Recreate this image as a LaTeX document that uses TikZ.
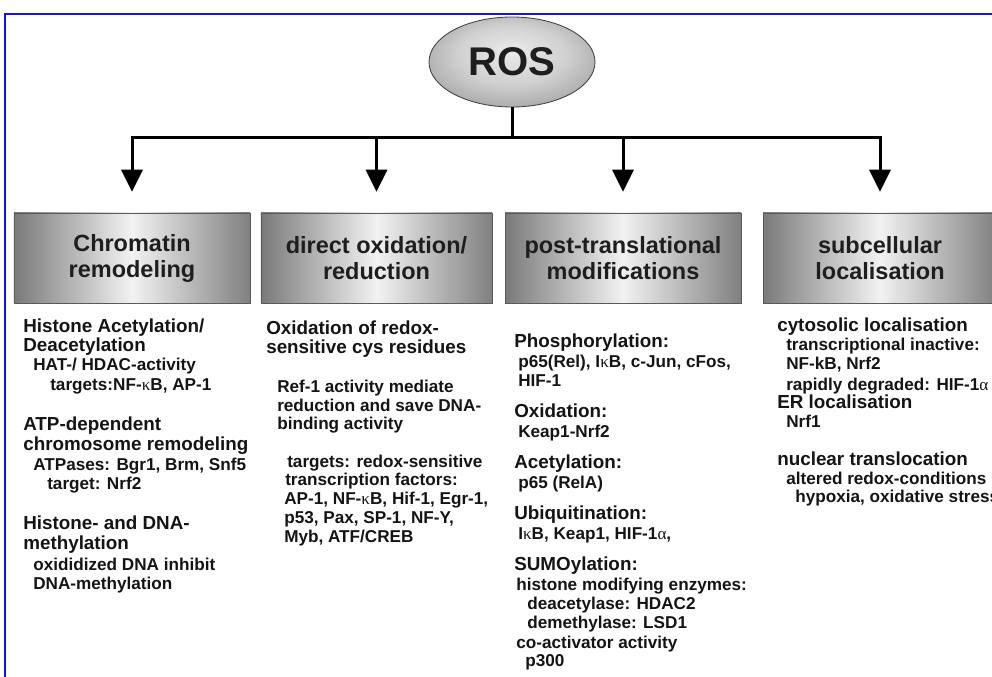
\documentclass[tikz,border=0pt]{standalone}
\usepackage{fontspec}
\setmainfont{Liberation Sans}
\newfontfamily\grk{Liberation Serif}
\usetikzlibrary{shapes.geometric,arrows.meta}
\definecolor{frameblue}{RGB}{20,20,240}
\definecolor{txt}{RGB}{20,20,20}
\definecolor{headtxt}{RGB}{30,30,30}
\definecolor{boxedgeL}{RGB}{122,122,122}
\definecolor{boxedgeR}{RGB}{128,128,128}
\definecolor{boxmid}{RGB}{242,242,242}
\definecolor{boxline}{RGB}{90,90,90}
\pgfdeclareradialshading{rosball}{\pgfpoint{0bp}{6bp}}{color(0bp)=(black!8); color(16bp)=(black!18); color(34bp)=(black!40); color(50bp)=(black!62)}
\newcommand{\kap}{{\grk\mdseries κ}}
\newcommand{\alp}{{\grk\mdseries α}}
\begin{document}
\begin{tikzpicture}[x=0.25mm,y=-0.25mm,
  hd/.style={anchor=base west, inner sep=0pt, font=\bfseries\fontsize{13.4}{15}\selectfont, text=txt},
  sb/.style={anchor=base west, inner sep=0pt, font=\bfseries\fontsize{12.2}{14}\selectfont, text=txt},
  catbox/.style={draw=boxline, line width=0.4pt, left color=boxedgeL, right color=boxedgeR, middle color=boxmid,
    minimum height=22.5mm, inner sep=0pt, align=center, text=headtxt,
    font=\bfseries\fontsize{16.7}{18.5}\selectfont},
  rosnode/.style={ellipse, draw=black!75, line width=0.6pt, shading=rosball, minimum width=41.5mm, minimum height=22.5mm,
    inner sep=0pt, text=headtxt, font=\bfseries\fontsize{28.5}{30}\selectfont},
  link/.style={line width=0.75mm, black},
  arr/.style={link, -{Triangle[width=5.25mm,length=5.5mm]}}
]
\useasboundingbox (0,0) rectangle (992,677);
\clip (0,0) rectangle (992,677);
\draw[frameblue, line width=0.6mm] (5,700) -- (5,14) -- (1000,14);

\node[rosnode] (ros) at (512,62) {ROS};

\node[catbox, minimum width=59mm]   (c1) at (132,258)   {Chromatin\\remodeling};
\node[catbox, minimum width=57.75mm] (c2) at (376.5,258) {direct oxidation/\\reduction};
\node[catbox, minimum width=59mm]   (c3) at (623,258)   {post-translational\\modifications};
\node[catbox, minimum width=58.5mm] (c4) at (880,258)   {subcellular\\localisation};

\coordinate (hub) at (512,138);
\draw[link] (ros.south) -- (hub);
\draw[link, line cap=rect] (c1.north |- hub) -- (c4.north |- hub);
\foreach \b in {c1,c2,c3,c4}
  \draw[arr] (\b.north |- hub) -- ([yshift=5.25mm]\b.north);

% column 1
\node[hd] (a1)  at (23,333) {Histone Acetylation/};
\node[hd] (a2)  at (23,352) {Deacetylation};
\node[sb] (a3)  at (33,371) {HAT-/ HDAC-activity};
\node[sb] (a4)  at (50,391) {targets:NF-\kap B, AP-1};
\node[hd] (a5)  at (23,431) {ATP-dependent};
\node[hd] (a6)  at (23,451) {chromosome remodeling};
\node[sb] (a7)  at (33,471) {ATPases: Bgr1, Brm, Snf5};
\node[sb] (a8)  at (47,490) {target: Nrf2};
\node[hd] (a9)  at (23,530) {Histone- and DNA-};
\node[hd] (a10) at (23,550) {methylation};
\node[sb] (a11) at (33,571) {oxididized DNA inhibit};
\node[sb] (a12) at (33,590) {DNA-methylation};

% column 2
\node[hd] (b1)  at (266,335) {Oxidation of redox-};
\node[hd] (b2)  at (266,354) {sensitive cys residues};
\node[sb] (b3)  at (277,393) {Ref-1 activity mediate};
\node[sb] (b4)  at (277,412) {reduction and save DNA-};
\node[sb] (b5)  at (277,430) {binding activity};
\node[sb] (b6)  at (287,468) {targets: redox-sensitive};
\node[sb] (b7)  at (285,486) {transcription factors:};
\node[sb] (b8)  at (284,505) {AP-1, NF-\kap B, Hif-1, Egr-1,};
\node[sb] (b9)  at (284,524) {p53, Pax, SP-1, NF-Y,};
\node[sb] (b10) at (284,543) {Myb, ATF/CREB};

% column 3
\node[hd] (p1)  at (514,348) {Phosphorylation:};
\node[sb] (p2)  at (518,368) {p65(Rel), I\kap B, c-Jun, cFos,};
\node[sb] (p3)  at (518,387) {HIF-1};
\node[hd] (p4)  at (514,418) {Oxidation:};
\node[sb] (p5)  at (518,438) {Keap1-Nrf2};
\node[hd] (p6)  at (514,469) {Acetylation:};
\node[sb] (p7)  at (518,489) {p65 (RelA)};
\node[hd] (p8)  at (514,520) {Ubiquitination:};
\node[sb] (p9)  at (518,540) {I\kap B, Keap1, HIF-1\alp,};
\node[hd] (p10) at (514,571) {SUMOylation:};
\node[sb] (p11) at (516,591) {histone modifying enzymes:};
\node[sb] (p12) at (527,610) {deacetylase: HDAC2};
\node[sb] (p13) at (527,629) {demethylase: LSD1};
\node[sb] (p14) at (516,648) {co-activator activity};
\node[sb] (p15) at (525,667) {p300};

% column 4
\node[hd] (d1) at (777,332) {cytosolic localisation};
\node[sb] (d2) at (786,351) {transcriptional inactive:};
\node[sb] (d3) at (786,370) {NF-kB, Nrf2};
\node[sb] (d4) at (786,391) {rapidly degraded: HIF-1\alp};
\node[hd] (d5) at (777,409) {ER localisation};
\node[sb] (d6) at (786,428) {Nrf1};
\node[hd] (d7) at (777,466) {nuclear translocation};
\node[sb] (d8) at (786,485) {altered redox-conditions};
\node[sb] (d9) at (795,503) {hypoxia, oxidative stress};
\end{tikzpicture}
\end{document}
